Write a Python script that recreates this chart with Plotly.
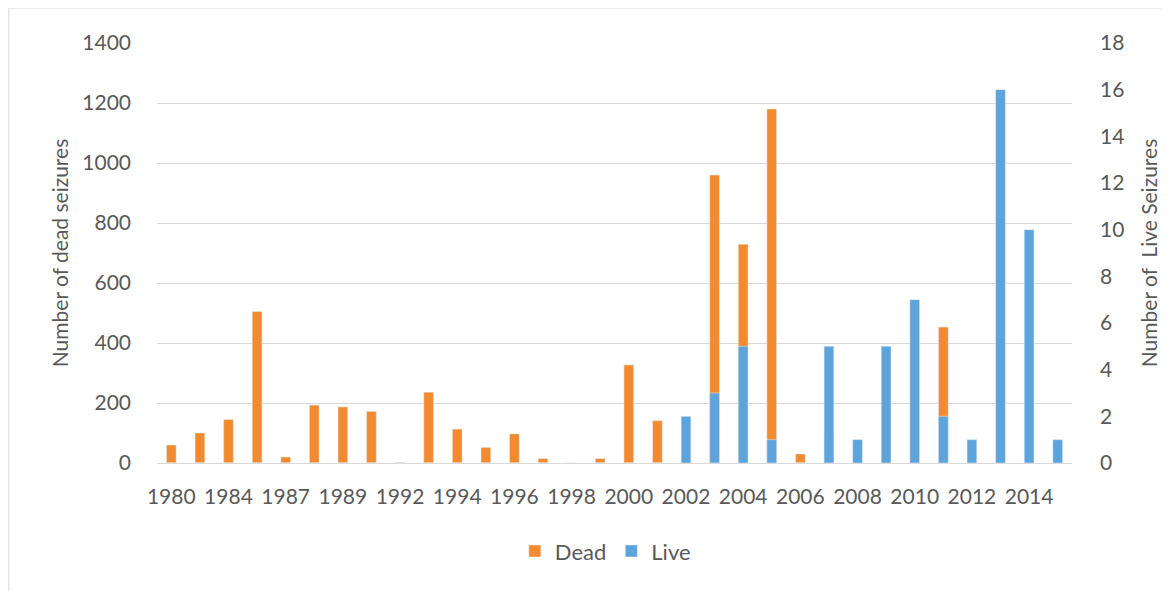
import plotly.graph_objs as go

# seizure years (categories on the x axis)
years = ['1980', '1982', '1984', '1985', '1987', '1988', '1989', '1990',
         '1992', '1993', '1994', '1995', '1996', '1997', '1998', '1999',
         '2000', '2001', '2002', '2003', '2004', '2005', '2006', '2007',
         '2008', '2009', '2010', '2011', '2012', '2013', '2014', '2015']

dead = [60, 100, 145, 505, 20, 193, 187, 172,
        2, 236, 113, 52, 97, 15, 0, 15,
        327, 141, 0, 960, 729, 1180, 30, 100,
        0, 0, 0, 453, 0, 0, 0, 0]

live = [0, 0, 0, 0, 0, 0, 0, 0,
        0, 0, 0, 0, 0, 0, 0, 0,
        0, 0, 2, 3, 5, 1, 0, 5,
        1, 5, 7, 2, 1, 16, 10, 1]

tick_years = years[::2]

font_main = "Lato, 'Open Sans', sans-serif"
grey_txt = '#595959'

# page body has an 8px margin, so the figure is drawn a bit smaller
fig = go.Figure()
fig.add_trace(go.Bar(x=years, y=dead, name='Dead', marker_color='#F28B30',
                     width=0.34, yaxis='y'))
fig.add_trace(go.Bar(x=years, y=live, name='Live', marker_color='#5DA3DC',
                     width=0.34, yaxis='y2'))

fig.update_layout(
    width=1161, height=583,
    margin=dict(l=149, r=92, t=35, b=128),
    paper_bgcolor='white', plot_bgcolor='white',
    barmode='overlay',
    font=dict(family=font_main, size=21, color=grey_txt),
    xaxis=dict(type='category', tickmode='array', tickvals=tick_years,
               ticktext=tick_years, showgrid=False, showline=True,
               linecolor='#D9D9D9', linewidth=1, ticks='',
               ticklabelstandoff=15, tickfont=dict(size=21, color=grey_txt)),
    yaxis=dict(range=[0, 1400], dtick=200, showgrid=True, gridcolor='#D9D9D9',
               zeroline=False, ticks='', ticklabelstandoff=25,
               title=dict(text='Number of dead seizures', standoff=7,
                          font=dict(size=21, color=grey_txt))),
    yaxis2=dict(range=[0, 18], dtick=2, overlaying='y', side='right',
                showgrid=False, zeroline=False, ticks='', ticklabelstandoff=27,
                title=dict(text='Number of  Live Seizures', standoff=18,
                           font=dict(size=21, color=grey_txt))),
    legend=dict(orientation='h', x=0.49, xanchor='center', y=-0.21,
                yanchor='middle', font=dict(size=22, color=grey_txt),
                itemwidth=30),
    shapes=[dict(type='rect', xref='paper', yref='paper',
                 x0=-149 / 920, x1=1.2, y0=-0.4, y1=1 + 35 / 420,
                 line=dict(color='#D9D9D9', width=1))],
)

fig.write_html("out.html")
